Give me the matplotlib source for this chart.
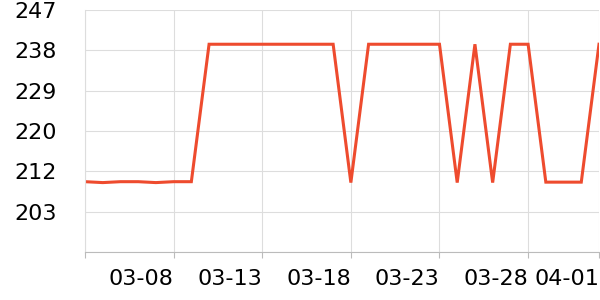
import matplotlib
matplotlib.use("Agg")
import matplotlib.pyplot as plt
import pandas as pd

# daily readings, 03-03 .. 04-01
dates = pd.date_range("2024-03-03", "2024-04-01", freq="D")
values = [209.4, 209.2, 209.4, 209.4, 209.2, 209.4, 209.4,
          239.5, 239.5, 239.5, 239.5, 239.5, 239.5, 239.5, 239.5,
          209.2,
          239.5, 239.5, 239.5, 239.5, 239.5,
          209.2, 239.5, 209.2, 239.5, 239.5,
          209.3, 209.3, 209.3, 239.5]

y_min, y_max = 194, 247
y_ticks = [y_min + k * (y_max - y_min) / 6 for k in range(7)]
y_labels = ["", "203", "212", "220", "229", "238", "247"]

x_ticks = pd.to_datetime(["2024-03-03", "2024-03-08", "2024-03-13", "2024-03-18",
                          "2024-03-23", "2024-03-28", "2024-04-01"])
x_labels = ["", "03-08", "03-13", "03-18", "03-23", "03-28", "04-01"]

fig = plt.figure(figsize=(6, 3), dpi=100)
ax = fig.add_axes([85 / 600, 1 - 252 / 300, 514 / 600, 242 / 300])

ax.plot(dates, values, color="#EE4B2E", linewidth=2.2, solid_joinstyle="miter")

ax.set_xlim(dates[0], dates[-1])
ax.set_ylim(y_min, y_max)
ax.set_yticks(y_ticks)
ax.set_yticklabels(y_labels, fontsize=16)
ax.set_xticks(x_ticks)
ax.set_xticklabels(x_labels, fontsize=16, ha="right")

ax.grid(True, color="#dddddd", linewidth=0.8)
ax.set_axisbelow(True)
for s in ["top", "right"]:
    ax.spines[s].set_visible(False)
ax.spines["left"].set_color("#dddddd")
ax.spines["bottom"].set_color("#bbbbbb")
ax.tick_params(axis="y", length=0, pad=20)
ax.tick_params(axis="x", length=4, color="#bbbbbb", pad=8)

fig.savefig("out.png", dpi=100)
